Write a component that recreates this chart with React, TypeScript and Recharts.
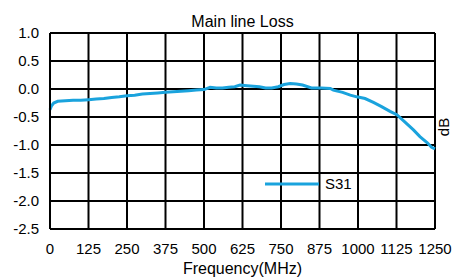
import { CartesianGrid, Legend, Line, LineChart, XAxis, YAxis } from 'recharts';

const freqs = [
  0, 5, 12, 25, 50, 75, 100, 125, 150, 175, 200, 225, 250, 275, 300, 325, 350, 375, 400, 425,
  450, 475, 500, 520, 540, 560, 580, 600, 617, 640, 660, 680, 700, 720, 741, 760, 780, 800, 820,
  849, 880, 910, 920, 950, 975, 996, 1023, 1050, 1075, 1104, 1126, 1150, 1180, 1201, 1225, 1239, 1250,
];
const s31 = [
  -0.37, -0.3, -0.25, -0.22, -0.21, -0.2, -0.2, -0.19, -0.18, -0.17, -0.15, -0.14, -0.12, -0.11,
  -0.09, -0.08, -0.07, -0.06, -0.05, -0.04, -0.03, -0.02, -0.01, 0.03, 0.02, 0.02, 0.03, 0.04, 0.07,
  0.06, 0.05, 0.04, 0.02, 0.02, 0.04, 0.08, 0.1, 0.09, 0.07, 0.02, 0.02, 0.01, -0.02, -0.06, -0.11,
  -0.14, -0.17, -0.24, -0.31, -0.4, -0.46, -0.58, -0.73, -0.85, -0.96, -1.04, -1.07,
];
const xTicks = [0, 125, 250, 375, 500, 625, 750, 875, 1000, 1125, 1250];
const yTicks = [1, 0.5, 0, -0.5, -1, -1.5, -2, -2.5];

const data = freqs.map((f, i) => ({ freq: f, s31: s31[i] }));

const font = '"Liberation Sans", Arial, sans-serif';
const blue = '#1aa3dd';

function renderLegend() {
  return (
    <svg width={100} height={18} style={{ display: 'block' }}>
      <line x1={0} y1={9} x2={54} y2={9} stroke={blue} strokeWidth={3} />
      <text x={60} y={9} dy="0.355em" fontSize={15} fontFamily={font} fill="#000">S31</text>
    </svg>
  );
}

export default function App() {
  return (
    <div style={{ position: 'absolute', left: 0, top: 0, width: 452, height: 278, background: '#fff', fontFamily: font }}>
      <div style={{ position: 'absolute', left: 50, width: 385, top: 14, textAlign: 'center', fontSize: 16, lineHeight: '16px', color: '#000' }}>
        Main line Loss
      </div>
      <LineChart width={452} height={278} data={data} margin={{ top: 33, right: 0, bottom: 0, left: 8 }}>
        <CartesianGrid stroke="#000" strokeWidth={2} />
        <XAxis
          dataKey="freq"
          type="number"
          domain={[0, 1250]}
          ticks={xTicks}
          interval={0}
          height={49}
          tickLine={false}
          tickSize={0}
          tickMargin={14}
          axisLine={{ stroke: '#000', strokeWidth: 2 }}
          tick={{ fontSize: 15, fill: '#000', fontFamily: font }}
          label={{ value: 'Frequency(MHz)', position: 'insideBottom', offset: 4, fontSize: 16, fill: '#000', fontFamily: font }}
        />
        <YAxis
          type="number"
          domain={[-2.5, 1]}
          ticks={yTicks}
          interval={0}
          width={42}
          tickLine={false}
          tickSize={0}
          tickMargin={11}
          axisLine={{ stroke: '#000', strokeWidth: 2 }}
          tickFormatter={(v: number) => v.toFixed(1)}
          tick={{ fontSize: 15, fill: '#000', fontFamily: font }}
        />
        <YAxis
          yAxisId="dB"
          orientation="right"
          type="number"
          domain={[-2.5, 1]}
          width={17}
          tick={false}
          tickLine={false}
          axisLine={false}
          label={{ value: 'dB', angle: -90, position: 'center', dy: -4, fontSize: 15, fill: '#000', fontFamily: font }}
        />
        <Legend
          verticalAlign="middle"
          align="center"
          layout="horizontal"
          content={renderLegend}
          wrapperStyle={{ left: 265, top: 175, width: 100, height: 18 }}
        />
        <Line
          type="linear"
          dataKey="s31"
          name="S31"
          stroke={blue}
          strokeWidth={3}
          dot={false}
          isAnimationActive={false}
        />
      </LineChart>
    </div>
  );
}
